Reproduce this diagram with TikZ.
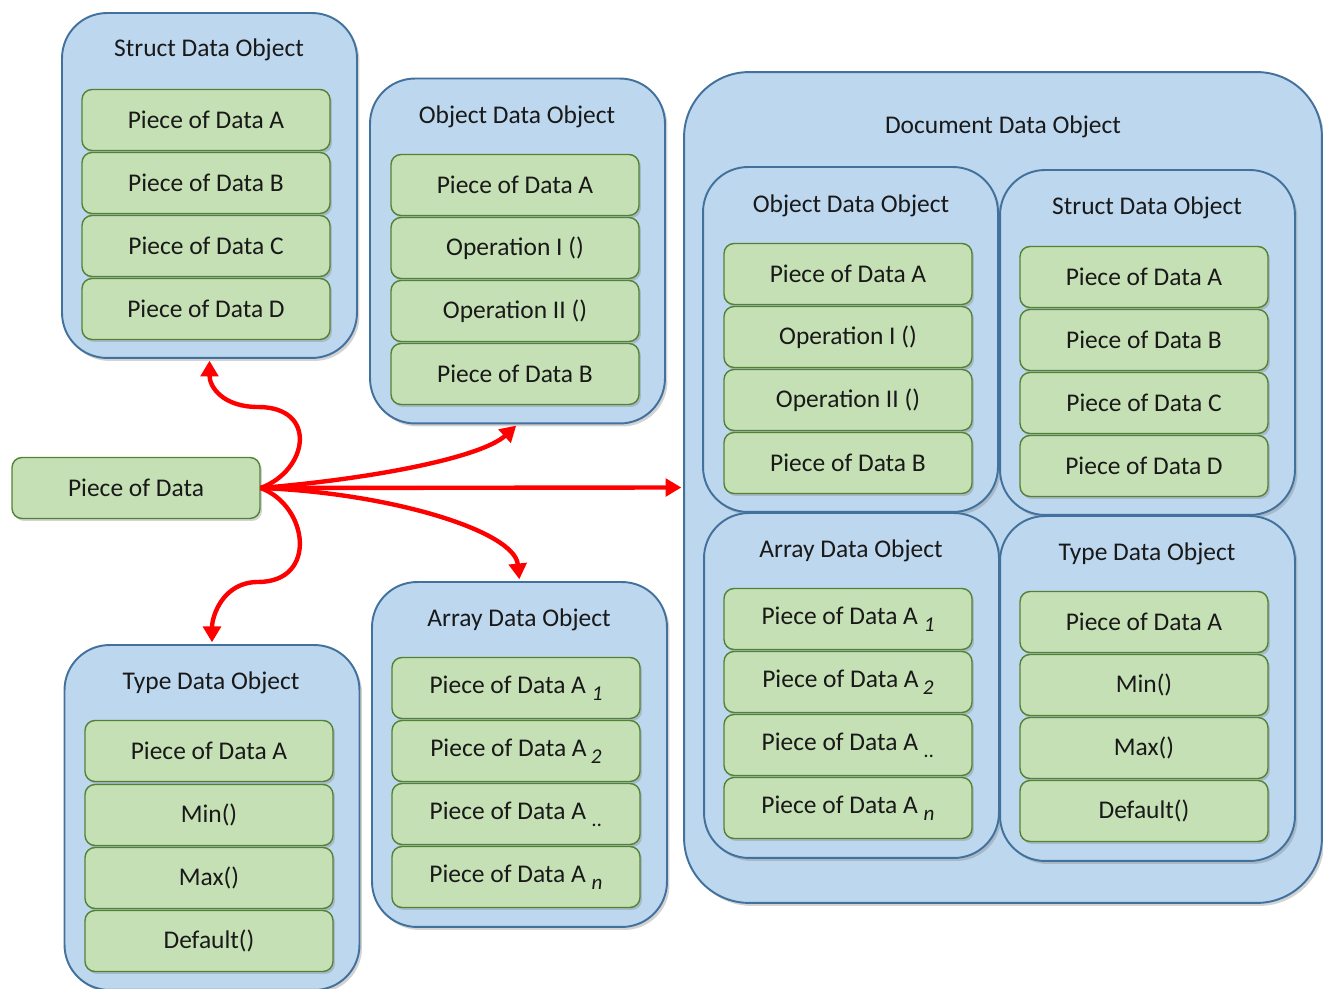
\documentclass[tikz,border=0pt]{standalone}
\usepackage{fontspec}
\setmainfont{Carlito}
\usepackage{tikz}
\usetikzlibrary{arrows.meta,shadows}
\definecolor{grpfill}{RGB}{189,215,238}
\definecolor{grpline}{RGB}{65,113,156}
\definecolor{itemfill}{RGB}{197,224,180}
\definecolor{itemline}{RGB}{84,130,53}
\definecolor{txt}{RGB}{25,25,25}
\newcommand{\sub}[1]{\raisebox{-.6ex}{\fontsize{12}{12}\selectfont\textit{#1}}}

\begin{document}
\begin{tikzpicture}
[
x=0.02cm,y=-0.02cm,
every node/.style={font=\fontsize{14.5}{16}\selectfont,text=txt},
grp/.style={draw=grpline,fill=grpfill,line width=1.1pt,rounded corners=0.9cm,
            minimum width=5.9cm,minimum height=6.9cm,
            drop shadow={shadow xshift=0.5mm,shadow yshift=-0.6mm,opacity=0.35}},
item/.style={draw=itemline,fill=itemfill,line width=0.8pt,rounded corners=0.2cm,
            minimum width=4.96cm,minimum height=1.22cm,
            drop shadow={shadow xshift=0.4mm,shadow yshift=-0.5mm,opacity=0.35}},
title/.style={inner sep=0pt},
link/.style={red,line width=2.5pt,-{Triangle[length=9pt,width=10pt]},shorten >=1pt},
]
\useasboundingbox (0,0) rectangle (1323,989);

%Place the nodes
%Struct Data Object
\node[grp] (s) at (209.5,185.5) {};
\node[title] (st) at (209,50) {Struct Data Object};
\node[item] (s1) at (206,120) {Piece of Data A};
\node[item] (s2) at (206,183) {Piece of Data B};
\node[item] (s3) at (206,246) {Piece of Data C};
\node[item] (s4) at (206,309) {Piece of Data D};
%Object Data Object
\node[grp] (o) at (517.5,251) {};
\node[title] (ot) at (517,117) {Object Data Object};
\node[item] (o1) at (515,185) {Piece of Data A};
\node[item] (o2) at (515,248) {Operation I ()};
\node[item] (o3) at (515,311) {Operation II ()};
\node[item] (o4) at (515,374) {Piece of Data B};
%Type Data Object
\node[grp] (t) at (212,817.5) {};
\node[title] (tt) at (211,683) {Type Data Object};
\node[item] (t1) at (209,751) {Piece of Data A};
\node[item] (t2) at (209,815) {Min()};
\node[item] (t3) at (209,878) {Max()};
\node[item] (t4) at (209,941) {Default()};
%Array Data Object
\node[grp] (a) at (519.5,754.5) {};
\node[title] (at) at (519,620) {Array Data Object};
\node[item] (a1) at (516,688) {Piece of Data A \sub{1}};
\node[item] (a2) at (516,751) {Piece of Data A\,\sub{2}};
\node[item] (a3) at (516,814) {Piece of Data A \sub{..}};
\node[item] (a4) at (516,877) {Piece of Data A \sub{n}};
%Document Data Object
\node[grp,rounded corners=1.3cm,minimum width=12.76cm,minimum height=16.62cm] (d) at (1003,487.5) {};
\node[title] (dt) at (1003,127) {Document Data Object};
\node[grp] (e) at (850.5,339.5) {};
\node[title] (et) at (851,206) {Object Data Object};
\node[item] (e1) at (848,274) {Piece of Data A};
\node[item] (e2) at (848,337) {Operation I ()};
\node[item] (e3) at (848,400) {Operation II ()};
\node[item] (e4) at (848,463) {Piece of Data B};
\node[grp] (f) at (1147.5,342.5) {};
\node[title] (ft) at (1147,208) {Struct Data Object};
\node[item] (f1) at (1144,277) {Piece of Data A};
\node[item] (f2) at (1144,340) {Piece of Data B};
\node[item] (f3) at (1144,403) {Piece of Data C};
\node[item] (f4) at (1144,466) {Piece of Data D};
\node[grp] (g) at (851.5,685.5) {};
\node[title] (gt) at (851,551) {Array Data Object};
\node[item] (g1) at (848,619) {Piece of Data A \sub{1}};
\node[item] (g2) at (848,682) {Piece of Data A\,\sub{2}};
\node[item] (g3) at (848,745) {Piece of Data A \sub{..}};
\node[item] (g4) at (848,808) {Piece of Data A \sub{n}};
\node[grp] (h) at (1147.5,688.5) {};
\node[title] (ht) at (1147,554) {Type Data Object};
\node[item] (h1) at (1144,622) {Piece of Data A};
\node[item] (h2) at (1144,685) {Min()};
\node[item] (h3) at (1144,748) {Max()};
\node[item] (h4) at (1144,811) {Default()};
%Piece of Data
\node[item] (p) at (136,488) {Piece of Data};
\coordinate (up) at (258,407);
\coordinate (dn) at (258,582);

%Draw the connections
\draw[link] (p.east) .. controls +(48,-18) and +(60,0) .. (up) .. controls +(-35,0) and +(0,28) .. (s.south);
\draw[link] (p.east) .. controls +(48,18) and +(60,0) .. (dn) .. controls +(-35,0) and +(0,-28) .. (t.north);
\draw[link] (p.east) .. controls +(120,-10) and +(-35,32) .. (o.south);
\draw[link] (p.east) .. controls +(130,5) and +(-5,-50) .. (a.north);
\draw[link] (p.east) -- (d.west);
\end{tikzpicture}
\end{document}
